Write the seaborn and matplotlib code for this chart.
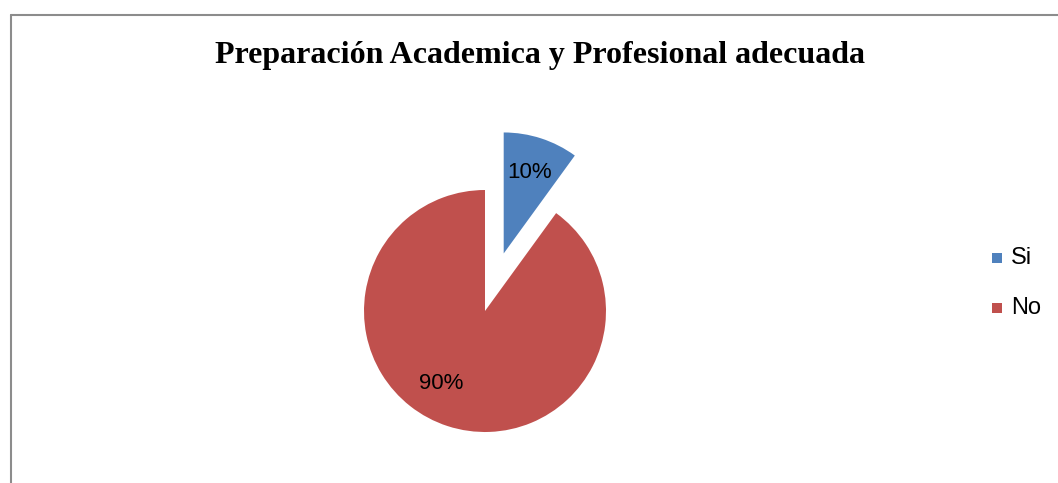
import matplotlib
matplotlib.use("Agg")
import matplotlib.pyplot as plt
import seaborn as sns
import numpy as np
from matplotlib.lines import Line2D
from matplotlib.patches import Rectangle

sns.set_theme(style="white")
plt.rcParams['font.family'] = ['Liberation Sans', 'DejaVu Sans']

categories = ["Si", "No"]
values = [10, 90]
pct_labels = ["10%", "90%"]
colors = ["#4F81BD", "#C0504D"]
title = "Preparación Academica y Profesional adecuada"

W, H = 1058, 483
fig = plt.figure(figsize=(W / 100, H / 100), dpi=100)
fig.patch.set_facecolor("white")

# pie geometry in pixels
cx, cy, R = 485, 311, 121
ax = fig.add_axes([0, 0, 1, 1])

wedges, texts = ax.pie(values, colors=colors, startangle=90, counterclock=False,
                       explode=[0.5, 0], radius=1, center=(0, 0),
                       wedgeprops=dict(linewidth=0))
ax.set_aspect("auto")
ax.set_xlim(-cx / R, (W - cx) / R)
ax.set_ylim(-(H - cy) / R, cy / R)
ax.axis("off")

# percentage labels
total = sum(values)
angle = 90
label_angles = [None, -121]
for w, v, lab, la in zip(wedges, values, pct_labels, label_angles):
    span = 360 * v / total
    mid = angle - span / 2
    angle -= span
    c = w.center
    a = np.deg2rad(mid if la is None else la)
    ax.text(c[0] + 0.7 * np.cos(a), c[1] + 0.7 * np.sin(a), lab,
            ha="center", va="center", fontsize=16, color="black")

fig.text(540 / W, 1 - 56 / H, title, ha="center", va="center", color="black",
         fontsize=23, fontweight="bold", family=["Liberation Serif", "DejaVu Serif"])

# legend
for i, (cat, col) in enumerate(zip(categories, colors)):
    y = 258 + 50 * i
    fig.add_artist(Rectangle((992 / W, 1 - (y + 5) / H), 10 / W, 10 / H,
                             transform=fig.transFigure, facecolor=col, edgecolor="none"))
    fig.text(1011 / W, 1 - y / H, cat, ha="left", va="center", fontsize=17, color="black")

# chart border (top and left visible)
gray = "#8C8C8C"
fig.add_artist(Line2D([10.5 / W, 10.5 / W], [0, 1 - 15 / H], transform=fig.transFigure,
                      color=gray, linewidth=1.5))
fig.add_artist(Line2D([10.5 / W, 1], [1 - 15 / H, 1 - 15 / H], transform=fig.transFigure,
                      color=gray, linewidth=1.5))

fig.savefig("out.png", dpi=100)
